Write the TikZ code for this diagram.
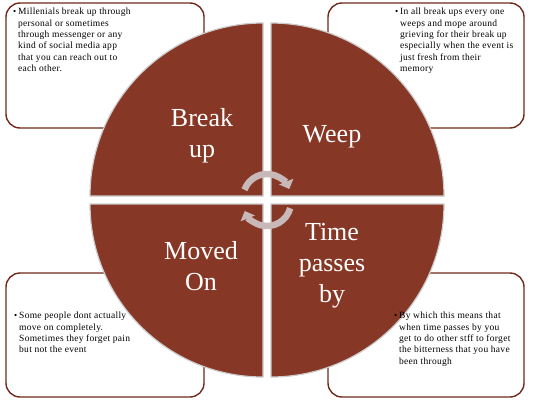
\documentclass[tikz,border=0pt]{standalone}
\usepackage{fontspec}
\setmainfont{Liberation Serif}
\newfontfamily\notefont[LetterSpace=3]{Liberation Serif}
\usepackage{tikz}
\usetikzlibrary{arrows.meta,positioning}
\definecolor{cmbrown}{RGB}{135,55,37}
\definecolor{cmframe}{RGB}{112,40,26}
\definecolor{cmedge}{RGB}{205,205,205}
\definecolor{cmarrow}{RGB}{200,184,184}
\newcommand{\bul}[1]{\makebox[5pt][l]{\small\raisebox{0.4pt}{•}}\parbox[t]{140pt}{\raggedright #1}}

\begin{document}
\begin{tikzpicture}[
  x=1pt, y=1pt,
  card/.style={draw=cmframe, line width=1.4pt, fill=white, rounded corners=14pt},
  quad/.style={fill=cmbrown, draw=cmedge, line width=1.2pt},
  note/.style={anchor=north west, inner sep=0pt,
               font=\notefont\fontsize{9.5}{11.4}\selectfont},
  stage/.style={text=white, align=center, font=\fontsize{26}{31}\selectfont},
  cyc/.style={draw=cmarrow, line width=6.5pt, -{Triangle[width=15pt,length=8pt]}},
]
\useasboundingbox (0,0) rectangle (534,400);
% corner cards
\draw[card] (6,272) rectangle (204,397);
\draw[card] (328,272) rectangle (524,397);
\draw[card] (6,3) rectangle (204,127);
\draw[card] (328,3) rectangle (524,127);
% quadrants
\draw[quad] (263,204) -- ++(-173,0) arc[start angle=180, end angle=90, radius=173] -- cycle;
\draw[quad] (271,204) -- ++(0,173) arc[start angle=90, end angle=0, radius=173] -- cycle;
\draw[quad] (271,196) -- ++(173,0) arc[start angle=0, end angle=-90, radius=173] -- cycle;
\draw[quad] (263,196) -- ++(0,-173) arc[start angle=-90, end angle=-180, radius=173] -- cycle;
\node[note] (tlnote) at (13,392) {\bul{Millenials break up through\\personal or sometimes\\through messenger or any\\kind of social media app\\that you can reach out to\\each other.}};
\node[note] (trnote) at (395,392) {\bul{In all break ups every one\\weeps and mope around\\grieving for their break up\\especially when the event is\\just fresh from their\\memory}};
\node[note] (blnote) at (14,88) {\bul{Some people dont actually\\move on completely.\\Sometimes they forget pain\\but not the event}};
\node[note] (brnote) at (394,88) {\bul{By which this means that\\when time passes by you\\get to do other stff to forget\\the bitterness that you have\\been through}};
\node[stage] (breakup) at (202,264) {Break\\up};
\node[stage] (weep) at (332,263) {Weep};
\node[stage] (movedon) at (201,134) {Moved\\On};
\node[stage] (timepass) at (332,134) {Time\\passes\\by};
% cycle arrows
\draw[cyc] (267,202) ++(160:24) arc[start angle=160, end angle=22, radius=24];
\draw[cyc] (267,198) ++(-15:24) arc[start angle=-15, end angle=-158, radius=24];
\end{tikzpicture}
\end{document}
